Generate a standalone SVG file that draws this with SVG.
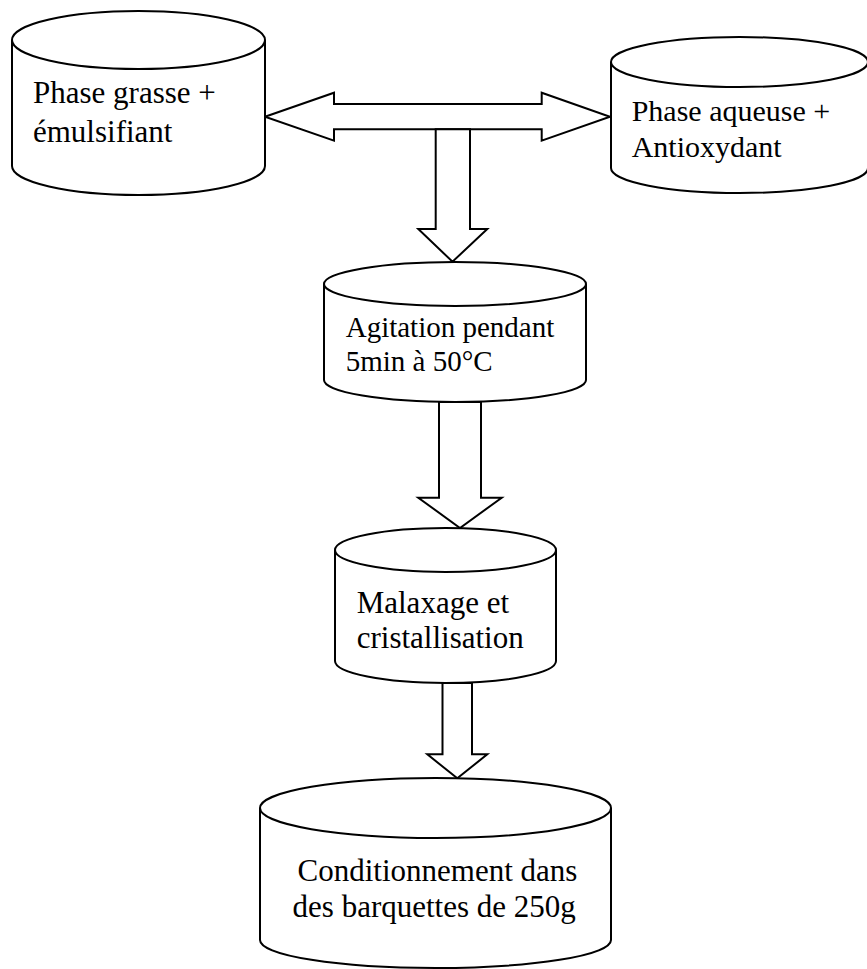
<svg xmlns="http://www.w3.org/2000/svg" width="867" height="969" viewBox="0 0 867 969">
<style>
.s{fill:#fff;stroke:#000;stroke-width:2;stroke-linejoin:miter}
.l{fill:none;stroke:#000;stroke-width:2}
.t{font-family:"Liberation Serif","Times New Roman",serif;fill:#000}
</style>
<rect width="867" height="969" fill="#fff"/>
<g id="connectors">
<polygon class="s" points="265,116.7 334,92.7 334,104 541.7,104 541.7,92.7 610,116.7 541.7,140.7 541.7,129.3 334,129.3 334,140.7"/>
<polygon class="s" points="435.7,129.3 470,129.3 470,229 487.3,229 452.5,261.7 418.3,229 435.7,229"/>
<polygon class="s" points="439,402 481,402 481,497.7 501.7,497.7 460,528 418.3,497.7 439,497.7"/>
<polygon class="s" points="442.5,683 472,683 472,754.3 487.3,754.3 457.3,778.3 427.3,754.3 442.5,754.3"/>
</g>
<g id="node-phase-grasse">
<path class="s" d="M12,40 A126.5,29 0 0 1 265,40 L265,166 A126.5,29 0 0 1 12,166 Z"/>
<path class="l" d="M12,40 A126.5,29 0 0 0 265,40"/>
<text class="t" font-size="31" x="33" y="103.3">Phase grasse +</text>
<text class="t" font-size="31" x="33" y="141.7">émulsifiant</text>
</g>
<g id="node-phase-aqueuse">
<path class="s" d="M611,62 A128.5,25 0 0 1 868,62 L868,168 A128.5,25 0 0 1 611,168 Z"/>
<path class="l" d="M611,62 A128.5,25 0 0 0 868,62"/>
<text class="t" font-size="30" x="631.7" y="120.7">Phase aqueuse +</text>
<text class="t" font-size="30" x="631.7" y="156.7">Antioxydant</text>
</g>
<g id="node-agitation">
<path class="s" d="M324,284 A131,22 0 0 1 586,284 L586,380 A131,22 0 0 1 324,380 Z"/>
<path class="l" d="M324,284 A131,22 0 0 0 586,284"/>
<text class="t" font-size="29" x="345.7" y="336.7">Agitation pendant</text>
<text class="t" font-size="29" x="345.7" y="370.7">5min à 50°C</text>
</g>
<g id="node-malaxage">
<path class="s" d="M335,550 A110.5,22 0 0 1 556,550 L556,661 A110.5,22 0 0 1 335,661 Z"/>
<path class="l" d="M335,550 A110.5,22 0 0 0 556,550"/>
<text class="t" font-size="31" x="356.7" y="612.7">Malaxage et</text>
<text class="t" font-size="31" x="356.7" y="648.3">cristallisation</text>
</g>
<g id="node-conditionnement">
<path class="s" d="M260,808 A175.5,30 0 0 1 611,808 L611,940 A175.5,28 0 0 1 260,940 Z"/>
<path class="l" d="M260,808 A175.5,30 0 0 0 611,808"/>
<text class="t" font-size="31" text-anchor="middle" x="437.5" y="881">Conditionnement dans</text>
<text class="t" font-size="31" text-anchor="middle" x="434.2" y="916.5">des barquettes de 250g</text>
</g>
</svg>
